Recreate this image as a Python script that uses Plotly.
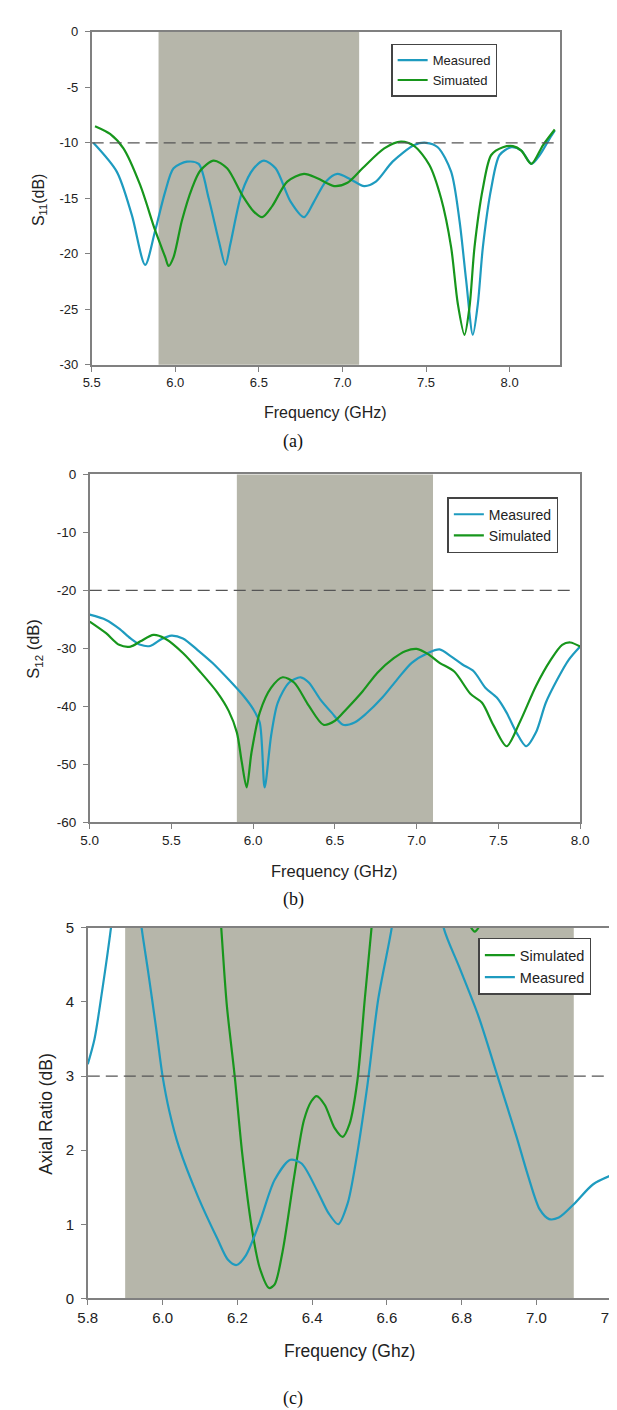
import plotly.graph_objects as go

W, H = 617, 1410

# ---------------- Panel (a): S11 ----------------
a_meas_f = [5.51, 5.65, 5.74, 5.82, 5.88, 5.94, 5.99, 6.07, 6.14, 6.20, 6.26, 6.30, 6.33, 6.40, 6.47, 6.53,
            6.60, 6.69, 6.77, 6.83, 6.90, 6.97, 7.05, 7.13, 7.20, 7.30, 7.43, 7.50, 7.57, 7.65, 7.70, 7.74,
            7.78, 7.81, 7.84, 7.89, 7.94, 8.01, 8.07, 8.13, 8.18, 8.24, 8.27]
a_meas_v = [-10.0, -12.6, -16.5, -21.0, -17.9, -14.4, -12.3, -11.7, -11.9, -15.0, -18.8, -21.0, -19.1, -14.4,
            -12.3, -11.6, -12.3, -15.3, -16.7, -15.3, -13.5, -12.8, -13.3, -13.9, -13.5, -11.7, -10.2, -10.0,
            -10.4, -12.6, -17.0, -22.4, -27.3, -24.5, -19.4, -14.1, -11.1, -10.4, -10.7, -11.9, -11.1, -9.6, -8.9]
a_sim_f = [5.52, 5.61, 5.69, 5.79, 5.88, 5.94, 5.96, 5.99, 6.04, 6.10, 6.15, 6.23, 6.31, 6.40, 6.47, 6.52,
           6.58, 6.67, 6.77, 6.85, 6.95, 7.03, 7.12, 7.25, 7.35, 7.43, 7.52, 7.59, 7.65, 7.69, 7.73, 7.76,
           7.79, 7.84, 7.89, 7.96, 8.02, 8.07, 8.13, 8.20, 8.27]
a_sim_v = [-8.5, -9.2, -10.5, -13.8, -17.9, -20.3, -21.1, -20.3, -17.0, -14.1, -12.5, -11.6, -12.3, -14.7,
           -16.2, -16.7, -15.7, -13.5, -12.8, -13.2, -13.9, -13.6, -12.3, -10.5, -9.9, -10.3, -12.0, -15.0,
           -19.4, -24.5, -27.3, -24.8, -19.4, -14.1, -11.1, -10.4, -10.3, -10.7, -11.9, -10.2, -8.8]
a_yticks = [0, -5, -10, -15, -20, -25, -30]
a_yticktext = ["0", "-5", "-10", "-15", "-20", "-25", "-30"]

# ---------------- Panel (b): S12 ----------------
b_meas_f = [5.00, 5.10, 5.18, 5.25, 5.31, 5.37, 5.44, 5.50, 5.57, 5.66, 5.75, 5.85, 5.94, 6.00, 6.04, 6.07,
            6.11, 6.15, 6.22, 6.29, 6.34, 6.41, 6.48, 6.55, 6.62, 6.69, 6.79, 6.88, 6.97, 7.07, 7.14, 7.21,
            7.28, 7.35, 7.42, 7.49, 7.55, 7.61, 7.67, 7.73, 7.79, 7.86, 7.93, 8.00]
b_meas_v = [-24.2, -25.1, -26.6, -28.3, -29.4, -29.6, -28.4, -27.8, -28.3, -30.3, -32.5, -35.4, -38.2, -40.5,
            -42.8, -54.0, -45.0, -39.4, -35.9, -35.0, -35.9, -38.8, -41.1, -43.2, -42.8, -41.3, -38.5, -35.4,
            -32.5, -30.8, -30.2, -31.4, -32.8, -34.0, -36.8, -38.5, -41.1, -44.5, -46.9, -44.5, -39.4, -35.4,
            -32.0, -29.7]
b_sim_f = [5.00, 5.10, 5.18, 5.25, 5.31, 5.39, 5.46, 5.57, 5.68, 5.78, 5.85, 5.90, 5.93, 5.96, 5.99, 6.04,
           6.11, 6.18, 6.25, 6.34, 6.43, 6.50, 6.57, 6.67, 6.76, 6.86, 6.93, 7.00, 7.07, 7.14, 7.23, 7.33,
           7.40, 7.47, 7.55, 7.63, 7.73, 7.82, 7.89, 7.94, 8.00]
b_sim_v = [-25.4, -27.4, -29.4, -29.7, -28.8, -27.7, -28.3, -30.8, -34.2, -37.6, -40.8, -44.5, -49.6, -54.0,
           -47.9, -41.1, -36.8, -35.0, -35.9, -39.9, -43.2, -42.5, -40.5, -37.4, -34.2, -31.7, -30.5, -30.1,
           -31.0, -32.5, -34.0, -37.9, -39.4, -43.3, -46.9, -42.8, -36.5, -32.0, -29.4, -29.0, -29.7]
b_yticks = [0, -10, -20, -30, -40, -50, -60]
b_yticktext = ["0", "-10", "-20", "-30", "-40", "-50", "-60"]

# ---------------- Panel (c): Axial ratio ----------------
c_sim_f = [6.10, 6.13, 6.157, 6.172, 6.193, 6.213, 6.239, 6.26, 6.285, 6.30, 6.321, 6.352, 6.378, 6.398,
           6.412, 6.434, 6.46, 6.482, 6.50, 6.521, 6.541, 6.559, 6.58, 6.62, 6.70, 6.78, 6.82, 6.835, 6.85,
           6.88, 6.95, 7.05, 7.20]
c_sim_v = [9.0, 7.0, 5.0, 3.95, 3.0, 1.96, 0.94, 0.41, 0.14, 0.19, 0.63, 1.64, 2.4, 2.66, 2.73, 2.61, 2.3,
           2.18, 2.35, 2.93, 4.04, 5.0, 6.2, 7.0, 7.0, 5.6, 5.05, 4.95, 5.05, 5.6, 7.0, 8.0, 8.5]
c_meas_f = [5.80, 5.818, 5.839, 5.862, 5.88, 5.90, 5.925, 5.944, 5.962, 5.983, 6.00, 6.018, 6.044, 6.095,
            6.147, 6.175, 6.198, 6.223, 6.26, 6.30, 6.342, 6.372, 6.413, 6.444, 6.47, 6.495, 6.516, 6.547,
            6.577, 6.613, 6.64, 6.68, 6.72, 6.752, 6.793, 6.845, 6.896, 6.947, 6.978, 7.009, 7.034, 7.06,
            7.10, 7.152, 7.205]
c_meas_v = [3.16, 3.5, 4.17, 5.0, 5.8, 6.2, 5.8, 5.0, 4.39, 3.64, 3.0, 2.53, 2.04, 1.37, 0.8, 0.52, 0.45,
            0.58, 1.03, 1.6, 1.87, 1.82, 1.46, 1.15, 1.0, 1.28, 1.81, 2.84, 4.04, 5.0, 6.0, 6.5, 6.0, 5.0,
            4.48, 3.81, 3.0, 2.18, 1.65, 1.2, 1.07, 1.09, 1.27, 1.54, 1.67]

band = [5.9, 7.1]
thresholds = [-10, -20, 3]

MEAS = "#1e9bbf"
SIM = "#17961c"
SHADE = "#b6b6aa"
AXC = "#808080"
TXT = "#222"
FONT = "Liberation Sans, Arial, sans-serif"
SERIF = "Liberation Serif, Times New Roman, serif"


def py(p):
    return 1 - p / H


def px(p):
    return p / W


fig = go.Figure()

LW = 2.2
# panel a
fig.add_trace(go.Scatter(x=a_meas_f, y=a_meas_v, name="Measured", mode="lines",
                         line=dict(color=MEAS, width=LW, shape="spline", smoothing=0.8),
                         xaxis="x", yaxis="y", legend="legend"))
fig.add_trace(go.Scatter(x=a_sim_f, y=a_sim_v, name="Simuated", mode="lines",
                         line=dict(color=SIM, width=LW, shape="spline", smoothing=0.8),
                         xaxis="x", yaxis="y", legend="legend"))
# panel b
fig.add_trace(go.Scatter(x=b_meas_f, y=b_meas_v, name="Measured", mode="lines",
                         line=dict(color=MEAS, width=LW, shape="spline", smoothing=0.8),
                         xaxis="x2", yaxis="y2", legend="legend2"))
fig.add_trace(go.Scatter(x=b_sim_f, y=b_sim_v, name="Simulated", mode="lines",
                         line=dict(color=SIM, width=LW, shape="spline", smoothing=0.8),
                         xaxis="x2", yaxis="y2", legend="legend2"))
# panel c
fig.add_trace(go.Scatter(x=c_sim_f, y=c_sim_v, name="Simulated", mode="lines",
                         line=dict(color=SIM, width=LW, shape="spline", smoothing=0.8),
                         xaxis="x3", yaxis="y3", legend="legend3"))
fig.add_trace(go.Scatter(x=c_meas_f, y=c_meas_v, name="Measured", mode="lines",
                         line=dict(color=MEAS, width=LW, shape="spline", smoothing=0.8),
                         xaxis="x3", yaxis="y3", legend="legend3"))

doms = {
    "a": dict(x=[px(76), px(559)], y=[py(352), py(15)]),
    "b": dict(x=[px(74), px(580)], y=[py(815), py(463)]),
    "c": dict(x=[px(72), px(612)], y=[py(1297), py(922)]),
}


def xax(dom, rng, dtick, fs, anchor):
    return dict(domain=dom, range=rng, dtick=dtick, tick0=rng[0], tickformat=".1f", showgrid=False,
                zeroline=False, showline=True, linecolor=AXC, linewidth=1.5, mirror=True,
                ticks="outside", ticklen=5, tickcolor=AXC, tickwidth=1.2,
                tickfont=dict(family=FONT, size=fs, color=TXT), anchor=anchor)


def yax(dom, rng, fs, anchor, vals, texts):
    return dict(domain=dom, range=rng, tickmode="array", tickvals=vals, ticktext=texts,
                showgrid=False, zeroline=False,
                showline=True, linecolor=AXC, linewidth=1.5, mirror=True, ticks="outside", ticklen=5,
                tickcolor=AXC, tickwidth=1.2, tickfont=dict(family=FONT, size=fs, color=TXT),
                anchor=anchor, ticklabelstandoff=4)


shapes = []
for xr, yr in [("x", "y"), ("x2", "y2"), ("x3", "y3")]:
    shapes.append(dict(type="rect", xref=xr, yref=yr + " domain", x0=band[0], x1=band[1], y0=0, y1=1,
                       fillcolor=SHADE, line=dict(width=0), layer="below"))
# threshold dashed lines
shapes.append(dict(type="line", xref="x", yref="y", x0=5.5, x1=8.27, y0=thresholds[0], y1=thresholds[0],
                   line=dict(color="#555", width=1.3, dash="12px,6px")))
shapes.append(dict(type="line", xref="x2", yref="y2", x0=5.0, x1=7.97, y0=thresholds[1], y1=thresholds[1],
                   line=dict(color="#555", width=1.3, dash="12px,6px")))
shapes.append(dict(type="line", xref="x3", yref="y3", x0=5.8, x1=7.2, y0=thresholds[2], y1=thresholds[2],
                   line=dict(color="#555", width=1.3, dash="12px,6px")))

annotations = [
    dict(text="Frequency (GHz)", x=px(317.5), y=py(400), xref="paper", yref="paper", showarrow=False,
         font=dict(family=FONT, size=16, color=TXT), xanchor="center", yanchor="middle"),
    dict(text="(a)", x=px(284), y=py(430), xref="paper", yref="paper", showarrow=False,
         font=dict(family=SERIF, size=18, color="#111"), xanchor="center", yanchor="middle"),
    dict(text="S<sub>11</sub>(dB)", x=px(22), y=py(185), xref="paper", yref="paper", showarrow=False,
         textangle=-90, font=dict(family=FONT, size=16, color=TXT), xanchor="center", yanchor="middle"),

    dict(text="Frequency (GHz)", x=px(327), y=py(864), xref="paper", yref="paper", showarrow=False,
         font=dict(family=FONT, size=16.5, color=TXT), xanchor="center", yanchor="middle"),
    dict(text="(b)", x=px(284), y=py(893), xref="paper", yref="paper", showarrow=False,
         font=dict(family=SERIF, size=18, color="#111"), xanchor="center", yanchor="middle"),
    dict(text="S<sub>12</sub> (dB)", x=px(17), y=py(639), xref="paper", yref="paper", showarrow=False,
         textangle=-90, font=dict(family=FONT, size=16.5, color=TXT), xanchor="center", yanchor="middle"),

    dict(text="Frequency (Ghz)", x=px(342), y=py(1350), xref="paper", yref="paper", showarrow=False,
         font=dict(family=FONT, size=17.5, color=TXT), xanchor="center", yanchor="middle"),
    dict(text="(c)", x=px(284), y=py(1398), xref="paper", yref="paper", showarrow=False,
         font=dict(family=SERIF, size=18, color="#111"), xanchor="center", yanchor="middle"),
    dict(text="Axial Ratio (dB)", x=px(28), y=py(1110), xref="paper", yref="paper", showarrow=False,
         textangle=-90, font=dict(family=FONT, size=17.5, color=TXT), xanchor="center", yanchor="middle"),
]


def leg(x, y, fs):
    return dict(x=px(x), y=py(y), xanchor="left", yanchor="top", bgcolor="white", bordercolor="#444",
                borderwidth=1.5, font=dict(family=FONT, size=fs, color=TXT), itemwidth=30,
                tracegroupgap=0)


fig.update_layout(
    width=W, height=H, margin=dict(l=0, r=0, t=0, b=0, pad=0),
    paper_bgcolor="white", plot_bgcolor="white", showlegend=True,
    xaxis=xax(doms["a"]["x"], [5.5, 8.3], 0.5, 13, "y"),
    yaxis=yax(doms["a"]["y"], [-30, 0], 13, "x", a_yticks, a_yticktext),
    xaxis2=xax(doms["b"]["x"], [5.0, 8.0], 0.5, 13.5, "y2"),
    yaxis2=yax(doms["b"]["y"], [-60, 0], 13.5, "x2", b_yticks, b_yticktext),
    xaxis3=xax(doms["c"]["x"], [5.8, 7.2], 0.2, 15, "y3"),
    yaxis3=yax(doms["c"]["y"], [0, 5], 15, "x3", [0, 1, 2, 3, 4, 5], ["0", "1", "2", "3", "4", "5"]),
    legend=leg(385, 27, 13),
    legend2=leg(443, 486, 14),
    legend3=leg(475, 932, 14.5),
    shapes=shapes, annotations=annotations,
)

fig.write_html("out.html")
